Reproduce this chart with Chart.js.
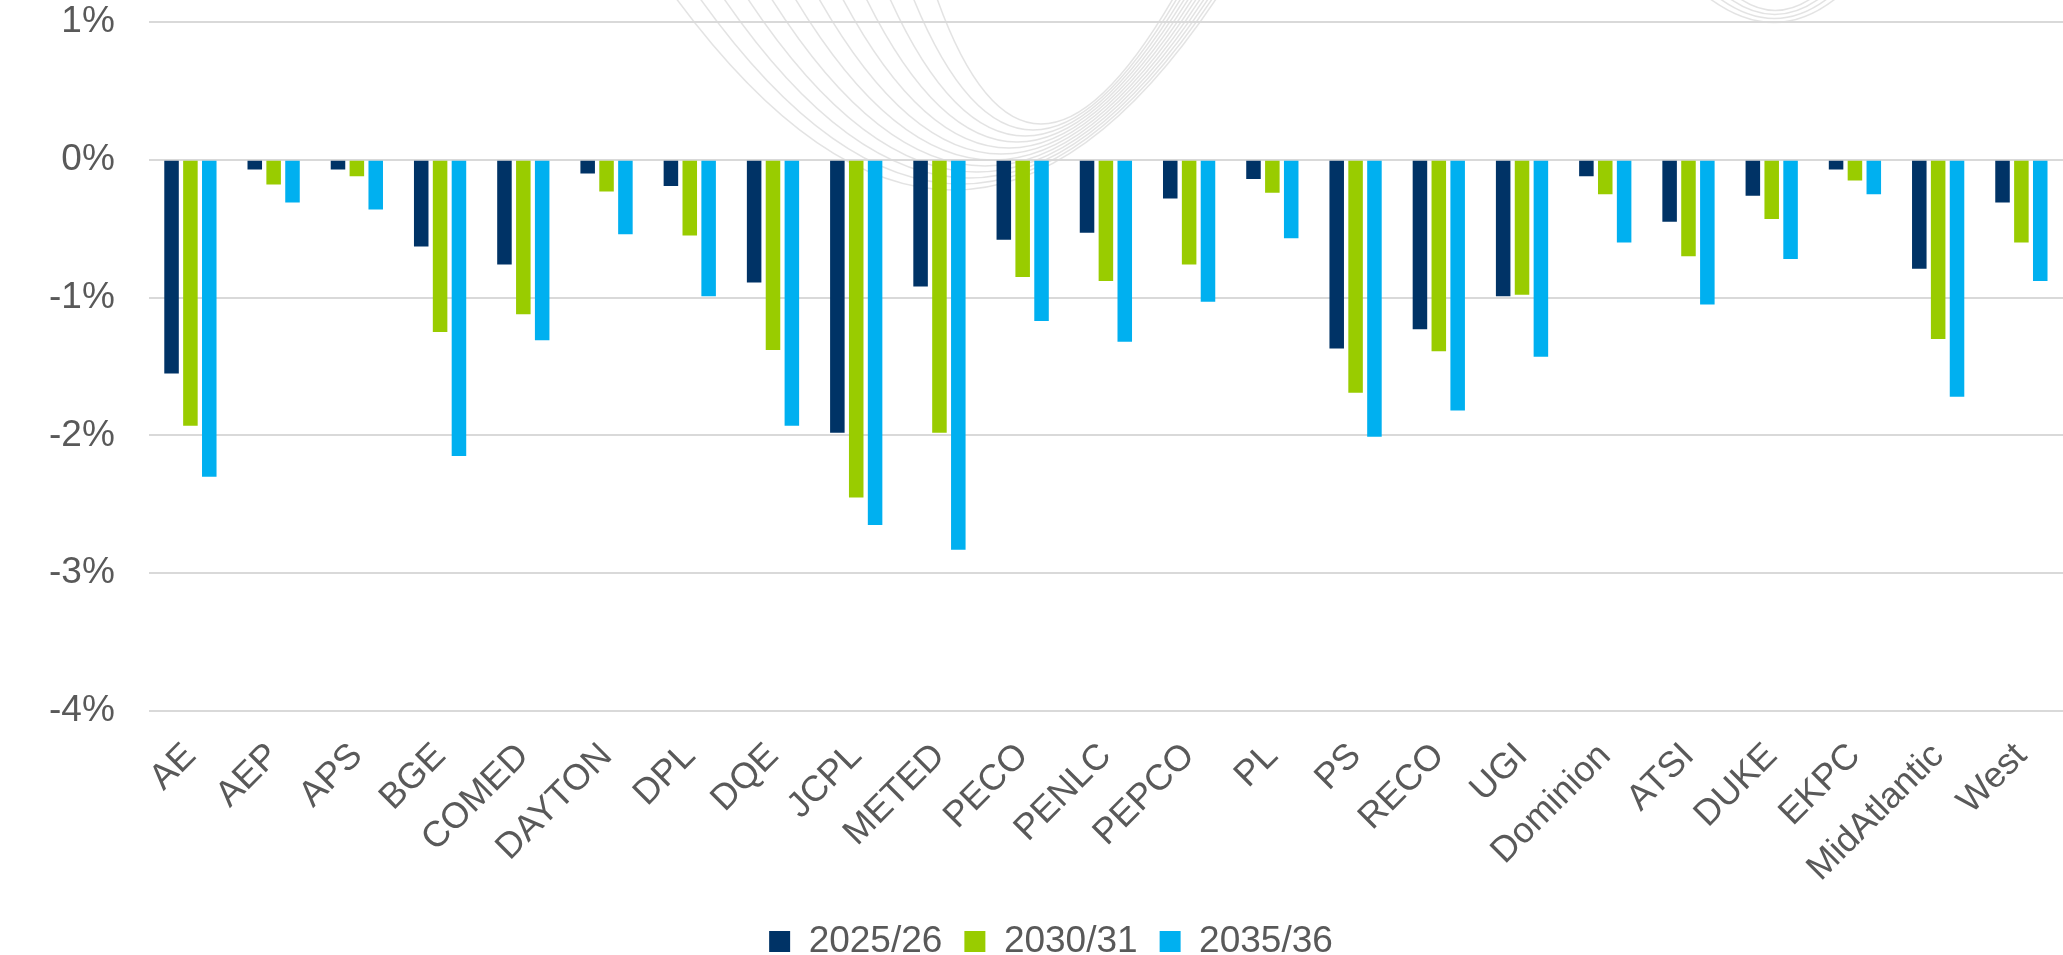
<!DOCTYPE html>
<html>
<head>
<meta charset="utf-8">
<script src="https://cdn.jsdelivr.net/npm/chart.js@4/dist/chart.umd.min.js"></script>
<style>
  html, body { margin: 0; padding: 0; background: #fff; }
  #wrap { width: 2063px; height: 955px; position: relative; }
</style>
</head>
<body>
<div id="wrap"><canvas id="chart"></canvas></div>
<script>
const categories = ["AE", "AEP", "APS", "BGE", "COMED", "DAYTON", "DPL", "DQE", "JCPL", "METED", "PECO", "PENLC",
  "PEPCO", "PL", "PS", "RECO", "UGI", "Dominion", "ATSI", "DUKE", "EKPC", "MidAtlantic", "West"];

const seriesNames = ["2025/26", "2030/31", "2035/36"];

const values2025 = [-1.55, -0.07, -0.07, -0.63, -0.76, -0.10, -0.19, -0.89, -1.98, -0.92, -0.58, -0.53,
  -0.28, -0.14, -1.37, -1.23, -0.99, -0.12, -0.45, -0.26, -0.07, -0.79, -0.31];
const values2030 = [-1.93, -0.18, -0.12, -1.25, -1.12, -0.23, -0.55, -1.38, -2.45, -1.98, -0.85, -0.88,
  -0.76, -0.24, -1.69, -1.39, -0.98, -0.25, -0.70, -0.43, -0.15, -1.30, -0.60];
const values2035 = [-2.30, -0.31, -0.36, -2.15, -1.31, -0.54, -0.99, -1.93, -2.65, -2.83, -1.17, -1.32,
  -1.03, -0.57, -2.01, -1.82, -1.43, -0.60, -1.05, -0.72, -0.25, -1.72, -0.88];

const yTicks = [1, 0, -1, -2, -3, -4];

const colors = ["#003366", "#99CC00", "#00B0F0"];
const textColor = "#595959";
const fontFamily = "'Liberation Sans', Arial, sans-serif";

// faint background swirl from the slide template
const backdrop = {
  id: "backdrop",
  beforeDraw(chart) {
    const ctx = chart.ctx;
    ctx.save();
    ctx.strokeStyle = "rgba(200,200,200,0.5)";
    ctx.lineWidth = 1.5;
    for (let i = 0; i < 12; i++) {
      ctx.beginPath();
      ctx.moveTo(670 + i * 24, -10);
      ctx.quadraticCurveTo(960 + i * 6, 390 - i * 12, 1222 - i * 4, -10);
      ctx.stroke();
    }
    for (let i = 0; i < 4; i++) {
      ctx.beginPath();
      ctx.moveTo(1705 + i * 10, -5);
      ctx.quadraticCurveTo(1775, 50 - i * 8, 1840 - i * 8, -5);
      ctx.stroke();
    }
    ctx.restore();
  },
};

// legend sits a little right of canvas centre in the original
const legendShift = {
  id: "legendShift",
  afterUpdate(chart) {
    chart.legend.left += 12;
    chart.legend.right += 12;
  },
};

new Chart(document.getElementById("chart"), {
  type: "bar",
  data: {
    labels: categories,
    datasets: [
      { label: seriesNames[0], data: values2025, backgroundColor: colors[0] },
      { label: seriesNames[1], data: values2030, backgroundColor: colors[1] },
      { label: seriesNames[2], data: values2035, backgroundColor: colors[2] },
    ],
  },
  options: {
    responsive: true,
    maintainAspectRatio: false,
    animation: false,
    layout: { padding: { left: 15, right: 0, top: 22, bottom: -15 } },
    datasets: {
      bar: { categoryPercentage: 0.68, barPercentage: 0.77 },
    },
    scales: {
      x: {
        grid: { display: false },
        border: { display: false },
        ticks: {
          color: textColor,
          font: { family: fontFamily, size: 36 },
          minRotation: 45,
          maxRotation: 45,
          autoSkip: false,
          padding: 16,
        },
        afterFit(scale) {
          scale.height = 190;
          scale.paddingLeft = 0;
          scale.paddingRight = 0;
        },
      },
      y: {
        min: -4,
        max: 1,
        afterBuildTicks(scale) {
          scale.ticks = yTicks.map((v) => ({ value: v }));
        },
        grid: { color: "#D9D9D9", lineWidth: 2, drawTicks: false },
        border: { display: false },
        ticks: {
          color: textColor,
          font: { family: fontFamily, size: 37 },
          padding: 34,
          callback: (v) => v + "%",
        },
        afterFit(scale) {
          scale.paddingTop = 0;
          scale.paddingBottom = 0;
        },
      },
    },
    plugins: {
      legend: {
        position: "bottom",
        labels: {
          color: textColor,
          font: { family: fontFamily, size: 37 },
          boxWidth: 21,
          boxHeight: 21,
          padding: 22,
        },
      },
      tooltip: { enabled: false },
    },
  },
  plugins: [backdrop, legendShift],
});
</script>
</body>
</html>
